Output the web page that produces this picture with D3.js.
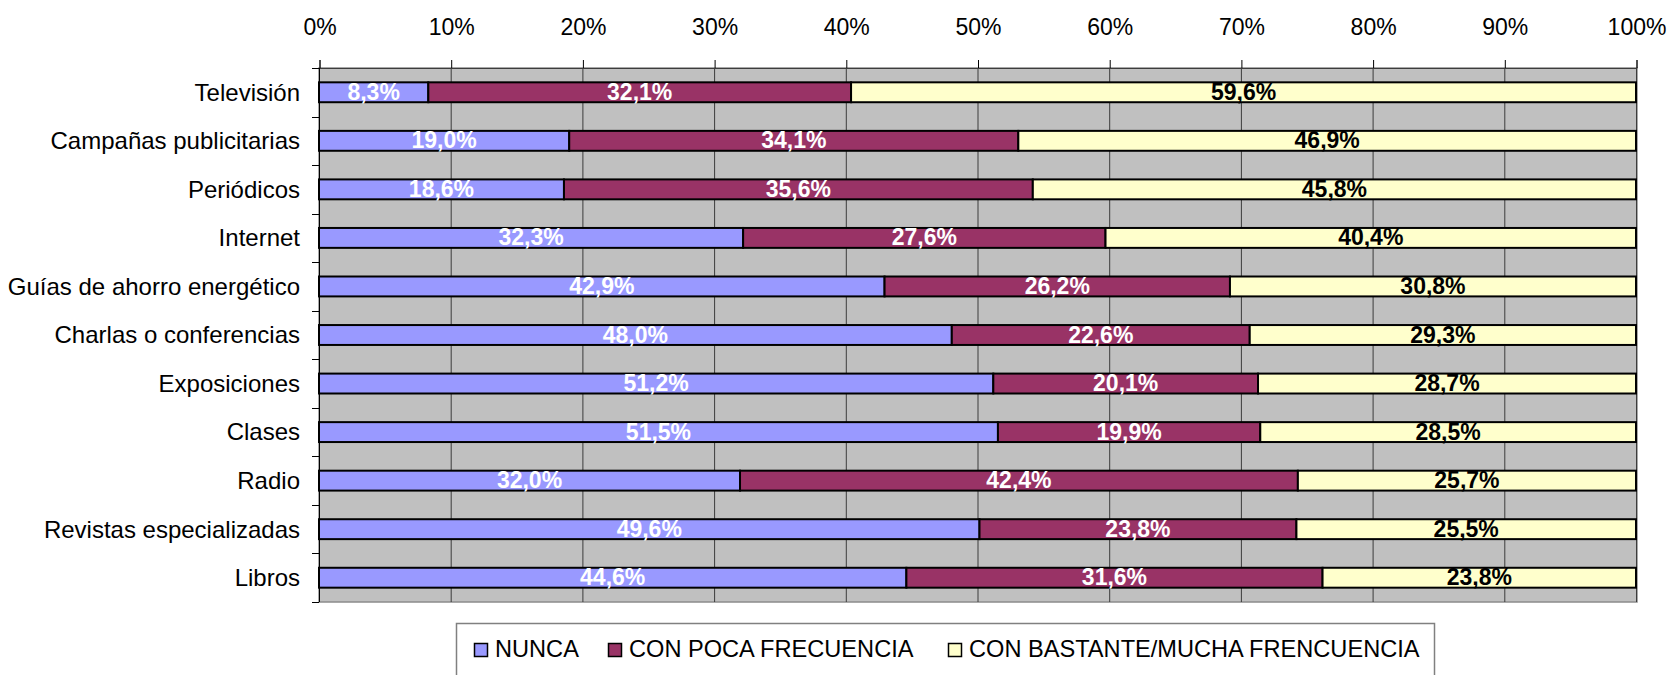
<!DOCTYPE html>
<html>
<head>
<meta charset="utf-8">
<script src="https://cdn.jsdelivr.net/npm/d3@7"></script>
<style>
  body { margin: 0; background: #fff; }
  svg text { font-family: "Liberation Sans", Arial, sans-serif; }
</style>
</head>
<body>
<div id="chart"></div>
<script>
var categories = [
  'Televisión',
  'Campañas publicitarias',
  'Periódicos',
  'Internet',
  'Guías de ahorro energético',
  'Charlas o conferencias',
  'Exposiciones',
  'Clases',
  'Radio',
  'Revistas especializadas',
  'Libros'
];
var seriesNames = ['NUNCA', 'CON POCA FRECUENCIA', 'CON BASTANTE/MUCHA FRENCUENCIA'];
var nunca = [8.3, 19.0, 18.6, 32.3, 42.9, 48.0, 51.2, 51.5, 32.0, 49.6, 44.6];
var conPoca = [32.1, 34.1, 35.6, 27.6, 26.2, 22.6, 20.1, 19.9, 42.4, 23.8, 31.6];
var conBastante = [59.6, 46.9, 45.8, 40.4, 30.8, 29.3, 28.7, 28.5, 25.7, 25.5, 23.8];
var xTicks = [0, 10, 20, 30, 40, 50, 60, 70, 80, 90, 100];

var colors = ['#9999ff', '#993366', '#ffffcc'];
var labelColors = ['#ffffff', '#ffffff', '#000000'];

var width = 1671,
    height = 675;

// plot area
var plot = {
  left: 319,
  right: 1636,
  top: 68,
  bottom: 602
};

var svg = d3.select('#chart')
    .append('svg')
        .attr('width', width)
        .attr('height', height);

var x = d3.scaleLinear()
    .domain([0, 100])
    .range([plot.left, plot.right]);

var y = d3.scaleBand()
    .domain(categories)
    .range([plot.top, plot.bottom])
    .paddingInner(0.59)
    .paddingOuter(0.295);

// rows, normalised to 100% stacks
var rows = categories.map(function(cat, i) {
  var vals = [nunca[i], conPoca[i], conBastante[i]];
  var total = d3.sum(vals);
  var acc = 0;
  return vals.map(function(v, k) {
    var seg = {
      cat: cat,
      k: k,
      value: v,
      x0: acc / total * 100,
      x1: (acc + v) / total * 100
    };
    acc += v;
    return seg;
  });
});

// plot background
svg.append('rect')
    .attr('x', plot.left)
    .attr('y', plot.top)
    .attr('width', plot.right - plot.left + 1)
    .attr('height', plot.bottom - plot.top)
    .attr('fill', '#c0c0c0')
    .attr('stroke', '#8c8c8c')
    .attr('stroke-width', 1.5);

// gridlines
svg.append('g')
    .selectAll('line')
    .data(xTicks.slice(1))
    .join('line')
        .attr('x1', function(d) { return x(d) + 0.5; })
        .attr('x2', function(d) { return x(d) + 0.5; })
        .attr('y1', plot.top)
        .attr('y2', plot.bottom)
        .attr('stroke', '#3c3c3c')
        .attr('stroke-width', 1);

// top axis
var xAxis = d3.axisTop(x)
    .tickValues(xTicks)
    .tickFormat(function(d) { return d + '%'; })
    .tickSize(8)
    .tickPadding(25);

var gx = svg.append('g')
    .attr('transform', 'translate(0.5,' + plot.top + ')')
    .call(xAxis);
gx.select('.domain')
    .attr('stroke', '#3c3c3c');
gx.selectAll('.tick line')
    .attr('stroke', '#000');
gx.selectAll('.tick text')
    .attr('fill', '#000')
    .style('font-size', '23px');

// left axis
var step = y.step();
var bounds = categories.map(function(d) {
  return y(d) + y.bandwidth() / 2 - step / 2;
}).concat([plot.bottom]);

var gy = svg.append('g');
gy.append('line')
    .attr('x1', plot.left + 0.5)
    .attr('x2', plot.left + 0.5)
    .attr('y1', plot.top)
    .attr('y2', plot.bottom)
    .attr('stroke', '#000');
gy.selectAll('.ytick')
    .data(bounds)
    .join('line')
        .attr('class', 'ytick')
        .attr('x1', plot.left - 7)
        .attr('x2', plot.left)
        .attr('y1', function(d) { return Math.round(d) + 0.5; })
        .attr('y2', function(d) { return Math.round(d) + 0.5; })
        .attr('stroke', '#000');
gy.selectAll('.ylabel')
    .data(categories)
    .join('text')
        .attr('class', 'ylabel')
        .attr('x', 300)
        .attr('y', function(d) { return y(d) + y.bandwidth() / 2; })
        .attr('dy', '0.35em')
        .attr('text-anchor', 'end')
        .style('font-size', '24px')
        .attr('fill', '#000')
        .text(function(d) { return d; });

// bars
var segs = d3.merge(rows);

svg.append('g')
    .selectAll('rect')
    .data(segs)
    .join('rect')
        .attr('x', function(d) { return x(d.x0); })
        .attr('y', function(d) { return y(d.cat); })
        .attr('width', function(d) { return x(d.x1) - x(d.x0); })
        .attr('height', y.bandwidth())
        .attr('fill', function(d) { return colors[d.k]; })
        .attr('stroke', '#000')
        .attr('stroke-width', 2);

// value labels
svg.append('g')
    .selectAll('text')
    .data(segs)
    .join('text')
        .attr('x', function(d) { return (x(d.x0) + x(d.x1)) / 2; })
        .attr('y', function(d) { return y(d.cat) + y.bandwidth() / 2; })
        .attr('dy', '0.33em')
        .attr('text-anchor', 'middle')
        .style('font-size', '23px')
        .style('font-weight', 'bold')
        .attr('fill', function(d) { return labelColors[d.k]; })
        .text(function(d) { return d.value.toFixed(1).replace('.', ',') + '%'; });

// legend
var legend = svg.append('g');
legend.append('rect')
    .attr('x', 456.5)
    .attr('y', 623.5)
    .attr('width', 978)
    .attr('height', 80)
    .attr('fill', '#fff')
    .attr('stroke', '#808080')
    .attr('stroke-width', 1.5);

var itemX = [474, 608, 948];
var item = legend.selectAll('.item')
    .data(seriesNames)
    .join('g')
        .attr('class', 'item')
        .attr('transform', function(d, i) { return 'translate(' + itemX[i] + ',0)'; });
item.append('rect')
    .attr('x', 0.5)
    .attr('y', 643.5)
    .attr('width', 13)
    .attr('height', 13)
    .attr('fill', function(d, i) { return colors[i]; })
    .attr('stroke', '#000')
    .attr('stroke-width', 1.5);
item.append('text')
    .attr('x', 21)
    .attr('y', 657)
    .style('font-size', '23.6px')
    .attr('fill', '#000')
    .text(function(d) { return d; });
</script>
</body>
</html>
